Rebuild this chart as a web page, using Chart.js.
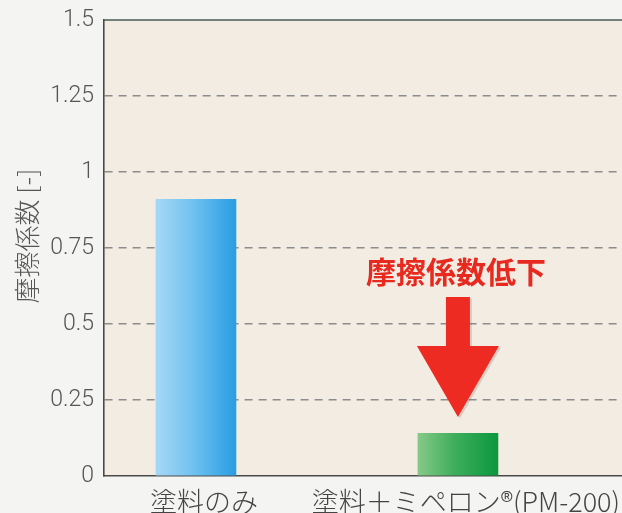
<!DOCTYPE html>
<html><head><meta charset="utf-8">
<script src="https://cdn.jsdelivr.net/npm/chart.js@4.4.0/dist/chart.umd.min.js"></script>
<style>html,body{margin:0;padding:0;background:#f4f4f2;overflow:hidden}#wrap{width:622px;height:513px;overflow:hidden}</style>
</head><body><div id="wrap"><canvas id="c" width="640" height="513"></canvas></div>
<script>
const categories = ['塗料のみ', '塗料＋ミペロン®(PM-200)'];
const xPositions = [0, 1];
const frictionValues = [0.91, 0.14];
const yTickValues = [0, 0.25, 0.5, 0.75, 1, 1.25, 1.5];
const yTickLabels = ['0', '0.25', '0.5', '0.75', '1', '1.25', '1.5'];
const yAxisTitle = '摩擦係数 [-]';
const annotationText = '摩擦係数低下';
// annotation anchor values (data units)
const annX = 1;
const annTextY = 0.674;
const arrowShaftTopY = 0.589;
const arrowHeadBaseY = 0.428;
const arrowTipY = 0.194;

const barGradients = [
  ['#a6d8f6', '#72c2f0', '#2a9de2'],
  ['#86c987', '#3fae5c', '#0c973f']
];

const CJK = '"Noto Sans CJK JP", "Noto Sans", sans-serif';

function arrowPath(ctx, x, yS, yB, yT, dx, dy) {
  ctx.beginPath();
  ctx.moveTo(x - 12 + dx, yS + dy);
  ctx.lineTo(x + 12 + dx, yS + dy);
  ctx.lineTo(x + 12 + dx, yB + dy);
  ctx.lineTo(x + 41 + dx, yB + dy);
  ctx.lineTo(x + dx, yT + dy);
  ctx.lineTo(x - 41 + dx, yB + dy);
  ctx.lineTo(x - 12 + dx, yB + dy);
  ctx.closePath();
}

const bgPlugin = {
  id: 'bg',
  beforeDraw(chart) {
    const {ctx, chartArea: a} = chart;
    ctx.save();
    ctx.fillStyle = '#f2ece3';
    ctx.fillRect(a.left, a.top, a.right - a.left, a.bottom - a.top);
    ctx.restore();
  },
  afterDraw(chart) {
    const {ctx, chartArea: a, scales} = chart;
    ctx.save();
    ctx.strokeStyle = '#4d5a56';
    ctx.lineWidth = 1.6;
    ctx.beginPath();
    ctx.moveTo(a.left, a.top);
    ctx.lineTo(a.right, a.top);
    ctx.stroke();
    ctx.translate(27, 236);
    ctx.rotate(-Math.PI / 2);
    ctx.fillStyle = '#555';
    ctx.font = '300 26px ' + CJK;
    ctx.textAlign = 'center';
    ctx.textBaseline = 'middle';
    ctx.fillText(yAxisTitle, 0, 0);
    ctx.restore();

    const x = scales.x.getPixelForValue(annX);
    const yS = scales.y.getPixelForValue(arrowShaftTopY);
    const yB = scales.y.getPixelForValue(arrowHeadBaseY);
    const yT = scales.y.getPixelForValue(arrowTipY);
    ctx.save();
    ctx.fillStyle = '#e8291f';
    ctx.font = 'bold 30px ' + CJK;
    ctx.textAlign = 'center';
    ctx.textBaseline = 'middle';
    ctx.fillText(annotationText, x - 2, scales.y.getPixelForValue(annTextY));
    ctx.fillStyle = 'rgba(90,60,40,0.18)';
    arrowPath(ctx, x, yS, yB, yT, 2, 1.5);
    ctx.fill();
    ctx.fillStyle = '#ee2b22';
    arrowPath(ctx, x, yS, yB, yT, 0, 0);
    ctx.fill();
    ctx.restore();
  }
};

new Chart(document.getElementById('c'), {
  type: 'bar',
  data: {
    datasets: [{
      data: xPositions.map((x, i) => ({x: x, y: frictionValues[i]})),
      barThickness: 80,
      borderWidth: 0,
      backgroundColor(ctx) {
        const chart = ctx.chart;
        if (!chart.chartArea || !ctx.raw) return barGradients[0][1];
        const cx = chart.scales.x.getPixelForValue(ctx.raw.x);
        const g = chart.ctx.createLinearGradient(cx - 40, 0, cx + 40, 0);
        const cols = barGradients[ctx.dataIndex];
        g.addColorStop(0, cols[0]);
        g.addColorStop(0.45, cols[1]);
        g.addColorStop(1, cols[2]);
        return g;
      }
    }]
  },
  options: {
    responsive: false,
    animation: false,
    devicePixelRatio: 1,
    layout: {padding: {top: 20, right: 0, left: 0, bottom: 0}},
    plugins: {legend: {display: false}, tooltip: {enabled: false}},
    scales: {
      x: {
        type: 'linear',
        min: -0.351,
        max: 1.695,
        offset: false,
        grid: {display: false, offset: false},
        border: {display: true, color: '#4a4a4a', width: 1.6},
        afterBuildTicks(scale) { scale.ticks = xPositions.map(v => ({value: v})); },
        afterFit(scale) { scale.height = 37; scale.paddingLeft = 0; scale.paddingRight = 0; },
        ticks: {
          padding: 2,
          labelOffset: 8,
          maxRotation: 0,
          autoSkip: false,
          color: '#444',
          font: {family: CJK, size: 27, weight: '300'},
          callback(v) { const i = xPositions.indexOf(v); return i >= 0 ? categories[i] : ''; }
        }
      },
      y: {
        min: 0,
        max: 1.5,
        afterBuildTicks(scale) { scale.ticks = yTickValues.map(v => ({value: v})); },
        afterFit(scale) { scale.width = 104; scale.paddingTop = 0; scale.paddingBottom = 0; },
        grid: {
          drawTicks: false,
          lineWidth: 1.5,
          color(ctx) { const v = ctx.tick && ctx.tick.value; return (v === 0 || v === 1.5) ? 'rgba(0,0,0,0)' : '#8c8c8c'; }
        },
        border: {display: true, color: '#4a4a4a', width: 1.6, dash: [8, 6]},
        ticks: {
          padding: 10,
          color: '#555',
          font: {family: 'Roboto, "Liberation Sans", sans-serif', size: 23, weight: '300'},
          callback(v) { const i = yTickValues.indexOf(v); return i >= 0 ? yTickLabels[i] : ''; }
        }
      }
    }
  },
  plugins: [bgPlugin]
});
</script>
</body></html>
